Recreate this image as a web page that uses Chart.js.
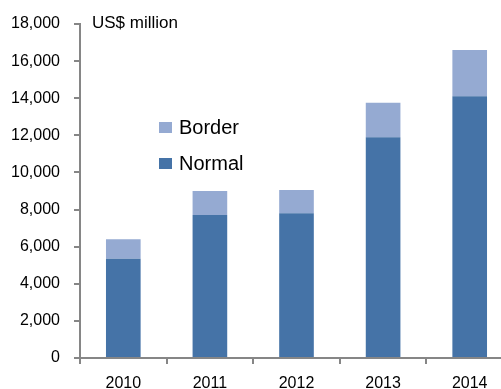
<!DOCTYPE html>
<html>
<head>
<meta charset="utf-8">
<script src="https://cdn.jsdelivr.net/npm/chart.js@4/dist/chart.umd.min.js"></script>
<style>
  html, body { margin: 0; padding: 0; background: #fff; overflow: hidden; }
  #wrap { width: 501px; height: 389px; overflow: hidden; }
</style>
</head>
<body>
<div id="wrap"><canvas id="c" width="513" height="389"></canvas></div>
<script>
// Years on the category axis
const years = ['2010', '2011', '2012', '2013', '2014'];
// Normal trade, US$ million
const normalValues = [5350, 7700, 7800, 11900, 14100];
// Border trade, US$ million (stacked on top of normal)
const borderValues = [1050, 1300, 1250, 1850, 2500];
// Value axis range
const yMin = 0;
const yMax = 18000;
const yStep = 2000;
const unitLabel = 'US$ million';

const FONT = "'Liberation Sans', Arial, sans-serif";
const AXIS_GREY = '#868686';

// Draws the unit caption and the in-plot legend
const overlayPlugin = {
  id: 'overlay',
  afterDraw(chart, args, opts) {
    const ctx = chart.ctx;
    ctx.save();
    ctx.fillStyle = '#000';
    ctx.textBaseline = 'alphabetic';
    ctx.textAlign = 'left';
    ctx.font = '17px ' + FONT;
    ctx.fillText(opts.unit, opts.unitX, opts.unitY);

    // Legend: top entry is the upper stack segment
    const sets = chart.data.datasets.slice().reverse();
    ctx.font = '20px ' + FONT;
    sets.forEach((ds, i) => {
      const y = opts.legendY + i * opts.legendGap;
      ctx.fillStyle = ds.backgroundColor;
      ctx.fillRect(opts.legendX, y - 12, 13, 11);
      ctx.fillStyle = '#000';
      ctx.fillText(ds.label, opts.legendX + 20, y);
    });
    ctx.restore();
  }
};

new Chart(document.getElementById('c'), {
  type: 'bar',
  data: {
    labels: years,
    datasets: [
      { label: 'Normal', data: normalValues, backgroundColor: '#4573a7' },
      { label: 'Border', data: borderValues, backgroundColor: '#95aad2' }
    ]
  },
  options: {
    responsive: false,
    animation: false,
    layout: { padding: { top: 24, right: 0, bottom: 0, left: 0 } },
    categoryPercentage: 1.0,
    barPercentage: 0.4,
    plugins: {
      legend: { display: false },
      tooltip: { enabled: false },
      overlay: {
        unit: unitLabel, unitX: 92, unitY: 28,
        legendX: 159, legendY: 134, legendGap: 36
      }
    },
    scales: {
      x: {
        stacked: true,
        afterFit(scale) { scale.height = 31; },
        grid: {
          drawOnChartArea: false, drawTicks: true, tickLength: 6,
          color: AXIS_GREY, lineWidth: 2, offset: true
        },
        border: { display: true, color: AXIS_GREY, width: 2 },
        ticks: { color: '#000', font: { family: FONT, size: 16 }, padding: 10 }
      },
      y: {
        stacked: true,
        min: yMin, max: yMax,
        afterFit(scale) { scale.width = 80; },
        grid: {
          drawOnChartArea: false, drawTicks: true, tickLength: 6,
          color: AXIS_GREY, lineWidth: 2
        },
        border: { display: true, color: AXIS_GREY, width: 2 },
        ticks: {
          stepSize: yStep, color: '#000', padding: 14,
          font: { family: FONT, size: 16 },
          callback: v => v.toLocaleString('en-US')
        }
      }
    }
  },
  plugins: [overlayPlugin]
});
</script>
</body>
</html>
